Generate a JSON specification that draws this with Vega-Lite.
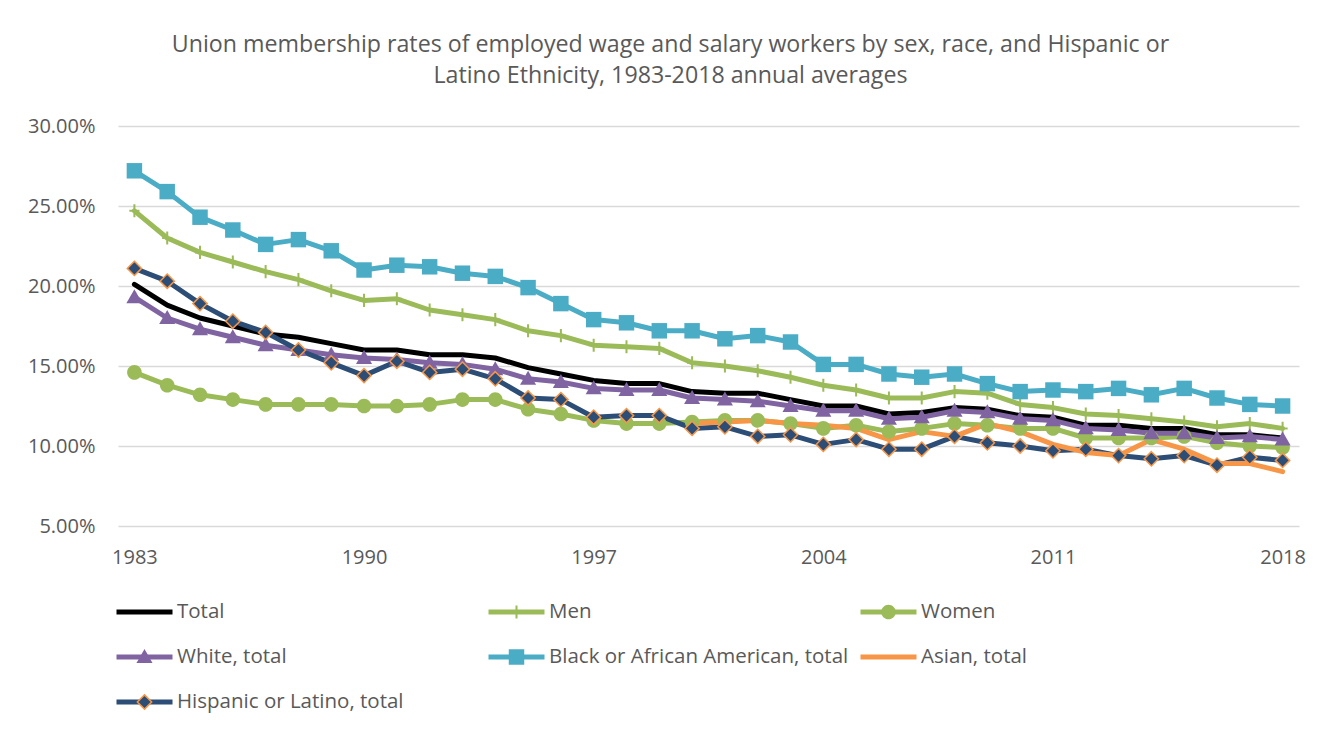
{
  "$schema": "https://vega.github.io/schema/vega-lite/v6.json",
  "width": 1181,
  "height": 400,
  "autosize": {"type": "none"},
  "padding": {"left": 118, "top": 126, "right": 33, "bottom": 204},
  "background": "white",
  "config": {"view": {"stroke": null}, "font": "Open Sans"},
  "title": {
    "text": ["Union membership rates of employed wage and salary workers by sex, race, and Hispanic or", "Latino Ethnicity, 1983-2018 annual averages"],
    "anchor": "middle", "frame": "group", "dx": -38, "fontSize": 23.2, "fontWeight": "normal",
    "color": "#595959", "lineHeight": 31, "offset": 28, "font": "Open Sans"
  },
  "data": {"values": [
    {"year":1983,"Total":20.1,"Men":24.7,"Women":14.6,"White, total":19.3,"Black or African American, total":27.2,"Asian, total":null,"Hispanic or Latino, total":21.1},
    {"year":1984,"Total":18.8,"Men":23.0,"Women":13.8,"White, total":18.0,"Black or African American, total":25.9,"Asian, total":null,"Hispanic or Latino, total":20.3},
    {"year":1985,"Total":18.0,"Men":22.1,"Women":13.2,"White, total":17.3,"Black or African American, total":24.3,"Asian, total":null,"Hispanic or Latino, total":18.9},
    {"year":1986,"Total":17.5,"Men":21.5,"Women":12.9,"White, total":16.8,"Black or African American, total":23.5,"Asian, total":null,"Hispanic or Latino, total":17.8},
    {"year":1987,"Total":17.0,"Men":20.9,"Women":12.6,"White, total":16.3,"Black or African American, total":22.6,"Asian, total":null,"Hispanic or Latino, total":17.1},
    {"year":1988,"Total":16.8,"Men":20.4,"Women":12.6,"White, total":16.0,"Black or African American, total":22.9,"Asian, total":null,"Hispanic or Latino, total":16.0},
    {"year":1989,"Total":16.4,"Men":19.7,"Women":12.6,"White, total":15.7,"Black or African American, total":22.2,"Asian, total":null,"Hispanic or Latino, total":15.2},
    {"year":1990,"Total":16.0,"Men":19.1,"Women":12.5,"White, total":15.5,"Black or African American, total":21.0,"Asian, total":null,"Hispanic or Latino, total":14.4},
    {"year":1991,"Total":16.0,"Men":19.2,"Women":12.5,"White, total":15.4,"Black or African American, total":21.3,"Asian, total":null,"Hispanic or Latino, total":15.3},
    {"year":1992,"Total":15.7,"Men":18.5,"Women":12.6,"White, total":15.2,"Black or African American, total":21.2,"Asian, total":null,"Hispanic or Latino, total":14.6},
    {"year":1993,"Total":15.7,"Men":18.2,"Women":12.9,"White, total":15.1,"Black or African American, total":20.8,"Asian, total":null,"Hispanic or Latino, total":14.8},
    {"year":1994,"Total":15.5,"Men":17.9,"Women":12.9,"White, total":14.8,"Black or African American, total":20.6,"Asian, total":null,"Hispanic or Latino, total":14.2},
    {"year":1995,"Total":14.9,"Men":17.2,"Women":12.3,"White, total":14.2,"Black or African American, total":19.9,"Asian, total":null,"Hispanic or Latino, total":13.0},
    {"year":1996,"Total":14.5,"Men":16.9,"Women":12.0,"White, total":14.0,"Black or African American, total":18.9,"Asian, total":null,"Hispanic or Latino, total":12.9},
    {"year":1997,"Total":14.1,"Men":16.3,"Women":11.6,"White, total":13.6,"Black or African American, total":17.9,"Asian, total":null,"Hispanic or Latino, total":11.8},
    {"year":1998,"Total":13.9,"Men":16.2,"Women":11.4,"White, total":13.5,"Black or African American, total":17.7,"Asian, total":null,"Hispanic or Latino, total":11.9},
    {"year":1999,"Total":13.9,"Men":16.1,"Women":11.4,"White, total":13.5,"Black or African American, total":17.2,"Asian, total":null,"Hispanic or Latino, total":11.9},
    {"year":2000,"Total":13.4,"Men":15.2,"Women":11.5,"White, total":13.0,"Black or African American, total":17.2,"Asian, total":11.4,"Hispanic or Latino, total":11.1},
    {"year":2001,"Total":13.3,"Men":15.0,"Women":11.6,"White, total":12.9,"Black or African American, total":16.7,"Asian, total":11.5,"Hispanic or Latino, total":11.2},
    {"year":2002,"Total":13.3,"Men":14.7,"Women":11.6,"White, total":12.8,"Black or African American, total":16.9,"Asian, total":11.6,"Hispanic or Latino, total":10.6},
    {"year":2003,"Total":12.9,"Men":14.3,"Women":11.4,"White, total":12.5,"Black or African American, total":16.5,"Asian, total":11.4,"Hispanic or Latino, total":10.7},
    {"year":2004,"Total":12.5,"Men":13.8,"Women":11.1,"White, total":12.2,"Black or African American, total":15.1,"Asian, total":11.3,"Hispanic or Latino, total":10.1},
    {"year":2005,"Total":12.5,"Men":13.5,"Women":11.3,"White, total":12.2,"Black or African American, total":15.1,"Asian, total":11.1,"Hispanic or Latino, total":10.4},
    {"year":2006,"Total":12.0,"Men":13.0,"Women":10.9,"White, total":11.7,"Black or African American, total":14.5,"Asian, total":10.4,"Hispanic or Latino, total":9.8},
    {"year":2007,"Total":12.1,"Men":13.0,"Women":11.1,"White, total":11.8,"Black or African American, total":14.3,"Asian, total":10.9,"Hispanic or Latino, total":9.8},
    {"year":2008,"Total":12.4,"Men":13.4,"Women":11.4,"White, total":12.2,"Black or African American, total":14.5,"Asian, total":10.6,"Hispanic or Latino, total":10.6},
    {"year":2009,"Total":12.3,"Men":13.3,"Women":11.3,"White, total":12.1,"Black or African American, total":13.9,"Asian, total":11.4,"Hispanic or Latino, total":10.2},
    {"year":2010,"Total":11.9,"Men":12.6,"Women":11.1,"White, total":11.7,"Black or African American, total":13.4,"Asian, total":10.9,"Hispanic or Latino, total":10.0},
    {"year":2011,"Total":11.8,"Men":12.4,"Women":11.1,"White, total":11.6,"Black or African American, total":13.5,"Asian, total":10.1,"Hispanic or Latino, total":9.7},
    {"year":2012,"Total":11.3,"Men":12.0,"Women":10.5,"White, total":11.1,"Black or African American, total":13.4,"Asian, total":9.6,"Hispanic or Latino, total":9.8},
    {"year":2013,"Total":11.3,"Men":11.9,"Women":10.5,"White, total":11.0,"Black or African American, total":13.6,"Asian, total":9.4,"Hispanic or Latino, total":9.4},
    {"year":2014,"Total":11.1,"Men":11.7,"Women":10.5,"White, total":10.8,"Black or African American, total":13.2,"Asian, total":10.4,"Hispanic or Latino, total":9.2},
    {"year":2015,"Total":11.1,"Men":11.5,"Women":10.6,"White, total":10.8,"Black or African American, total":13.6,"Asian, total":9.8,"Hispanic or Latino, total":9.4},
    {"year":2016,"Total":10.7,"Men":11.2,"Women":10.2,"White, total":10.5,"Black or African American, total":13.0,"Asian, total":8.9,"Hispanic or Latino, total":8.8},
    {"year":2017,"Total":10.7,"Men":11.4,"Women":10.0,"White, total":10.6,"Black or African American, total":12.6,"Asian, total":8.9,"Hispanic or Latino, total":9.3},
    {"year":2018,"Total":10.5,"Men":11.1,"Women":9.9,"White, total":10.4,"Black or African American, total":12.5,"Asian, total":8.4,"Hispanic or Latino, total":9.1}
  ]},
  "transform": [
    {"fold": ["Total", "Men", "Women", "White, total", "Black or African American, total", "Asian, total", "Hispanic or Latino, total"], "as": ["series", "value"]},
    {"filter": "datum.value != null"}
  ],
  "encoding": {
    "x": {
      "field": "year", "type": "ordinal",
      "scale": {"type": "point", "padding": 0.5},
      "axis": {"values": [1983, 1990, 1997, 2004, 2011, 2018], "title": null, "labelAngle": 0, "domain": false, "ticks": false, "grid": false, "labelFontSize": 20, "labelColor": "#595959", "labelFont": "Open Sans", "labelPadding": 21}
    },
    "y": {
      "field": "value", "type": "quantitative",
      "scale": {"domain": [5, 30], "nice": false, "zero": false},
      "axis": {"values": [5, 10, 15, 20, 25, 30], "labelExpr": "format(datum.value, '.2f') + '%'", "title": null, "domain": false, "ticks": false, "grid": true, "gridColor": "#D9D9D9", "gridWidth": 1.5, "labelFontSize": 20, "labelColor": "#595959", "labelFont": "Open Sans", "labelPadding": 23}
    }
  },
  "layer": [
    {
      "mark": {"type": "line", "strokeWidth": 5, "strokeCap": "round", "strokeJoin": "round"},
      "encoding": {
        "color": {
          "field": "series", "type": "nominal",
          "scale": {
            "domain": ["Total", "White, total", "Asian, total", "Men", "Black or African American, total", "Hispanic or Latino, total", "Women"],
            "range": ["#000000", "#8064A2", "#F79646", "#9BBB59", "#4BACC6", "#2C4D75", "#9BBB59"]
          },
          "legend": {
            "orient": "none", "legendX": -4, "legendY": 474, "columns": 3, "title": null,
            "symbolType": "stroke", "symbolSize": 3136, "symbolStrokeWidth": 5, "clipHeight": 24,
            "gridAlign": "all", "columnPadding": 9, "rowPadding": 21,
            "labelFont": "Open Sans", "labelFontSize": 20.5, "labelColor": "#595959", "labelOffset": 2, "labelLimit": 500, "padding": 0
          }
        }
      }
    },
    {
      "mark": {"type": "point", "filled": true, "size": 3540, "opacity": 1, "strokeWidth": 1.5},
      "encoding": {
        "color": {"field": "series", "type": "nominal", "legend": null},
        "stroke": {"condition": {"test": "datum.series === 'Hispanic or Latino, total'", "value": "#F79646"}, "value": "transparent"},
        "shape": {
          "field": "series", "type": "nominal",
          "sort": ["Total", "White, total", "Asian, total", "Men", "Black or African American, total", "Hispanic or Latino, total", "Women"],
          "scale": {"range": [
            "M0,0Z",
            "M0,-0.27L0.27,0.2L-0.27,0.2Z",
            "M0,0Z",
            "M-0.034,-0.22H0.034V-0.034H0.17V0.034H0.034V0.22H-0.034V0.034H-0.17V-0.034H-0.034Z",
            "M-0.26,-0.26H0.26V0.26H-0.26Z",
            "M0,-0.24L0.24,0L0,0.24L-0.24,0Z",
            "M0.245,0A0.245,0.245,0,1,1,-0.245,0A0.245,0.245,0,1,1,0.245,0Z"
          ]},
          "legend": {
            "orient": "none", "legendX": -4, "legendY": 474, "columns": 3, "title": null,
            "symbolSize": 3540, "symbolStrokeWidth": 1.5, "clipHeight": 24,
            "gridAlign": "all", "columnPadding": 9, "rowPadding": 21,
            "labelFont": "Open Sans", "labelFontSize": 20.5, "labelOpacity": 0, "labelOffset": 2, "labelLimit": 500, "padding": 0,
            "encoding": {"symbols": {
              "fill": {"value": {"expr": "scale('color', datum.value)"}},
              "stroke": {"value": {"expr": "datum.value === 'Hispanic or Latino, total' ? '#F79646' : 'transparent'"}},
              "opacity": {"value": 1}
            }}
          }
        }
      }
    }
  ]
}
